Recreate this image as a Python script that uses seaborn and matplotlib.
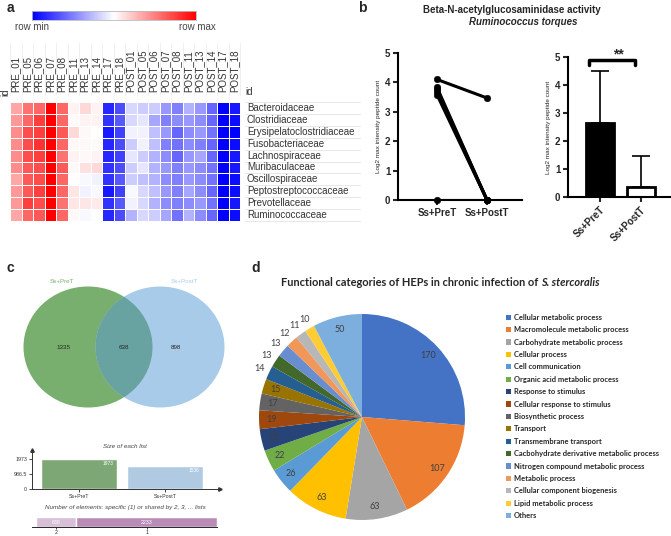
# Figura compuesta: heatmap (a), actividad enzimatica (b), Venn (c) y categorias funcionales (d)

import matplotlib
matplotlib.use("Agg")
import matplotlib.pyplot as plt
from matplotlib.colors import LinearSegmentedColormap
from matplotlib.patches import Ellipse
import numpy as np
import pandas as pd
import seaborn as sns

sns.set_style("white")
plt.rcParams["font.family"] = ["Liberation Sans", "DejaVu Sans"]

W, H = 671, 536

# ---------- datos panel a ----------
muestras = ["PRE_01", "PRE_05", "PRE_06", "PRE_07", "PRE_08", "PRE_11", "PRE_13", "PRE_14",
            "PRE_17", "PRE_18", "POST_01", "POST_05", "POST_06", "POST_07", "POST_08",
            "POST_11", "POST_13", "POST_14", "POST_17", "POST_18"]
familias = ["Bacteroidaceae", "Clostridiaceae", "Erysipelatoclostridiaceae", "Fusobacteriaceae",
            "Lachnospiraceae", "Muribaculaceae", "Oscillospiraceae", "Peptostreptococcaceae",
            "Prevotellaceae", "Ruminococcaceae"]
valores_a = [
    [0.35, 0.55, 0.60, 1.0, 0.60, 0.05, 0.15, 0.05, -0.85, -0.70, -0.15, -0.20, -0.20, -0.40, -0.50, -0.30, -0.40, -0.60, -1.0, -0.90],
    [0.40, 0.60, 0.75, 1.0, 0.60, 0.02, 0.05, 0.05, -0.80, -0.65, -0.15, -0.10, -0.35, -0.50, -0.45, -0.40, -0.45, -0.60, -1.0, -0.95],
    [0.45, 0.70, 0.75, 1.0, 0.65, 0.15, 0.03, 0.00, -0.90, -0.75, -0.05, -0.05, -0.25, -0.40, -0.60, -0.45, -0.40, -0.55, -1.0, -1.00],
    [0.45, 0.70, 0.80, 1.0, 0.60, 0.03, 0.03, 0.02, -0.85, -0.70, -0.20, -0.05, -0.25, -0.50, -0.55, -0.45, -0.50, -0.60, -1.0, -0.95],
    [0.45, 0.70, 0.75, 1.0, 0.55, 0.05, 0.03, 0.05, -0.85, -0.75, -0.10, -0.20, -0.30, -0.45, -0.60, -0.40, -0.35, -0.60, -1.0, -0.90],
    [0.45, 0.65, 0.70, 1.0, 0.65, 0.03, 0.12, 0.15, -0.80, -0.70, -0.20, -0.10, -0.30, -0.40, -0.50, -0.40, -0.45, -0.55, -1.0, -0.90],
    [0.35, 0.65, 0.70, 1.0, 0.60, 0.00, -0.03, -0.05, -0.80, -0.65, -0.20, -0.25, -0.30, -0.45, -0.50, -0.40, -0.45, -0.55, -1.0, -0.95],
    [0.40, 0.65, 0.75, 1.0, 0.60, 0.10, -0.05, -0.03, -0.90, -0.75, -0.03, -0.15, -0.25, -0.40, -0.50, -0.35, -0.45, -0.60, -1.0, -0.95],
    [0.40, 0.75, 0.70, 1.0, 0.55, 0.10, 0.10, 0.08, -0.80, -0.65, -0.05, -0.15, -0.30, -0.45, -0.50, -0.45, -0.40, -0.55, -1.0, -0.90],
    [0.35, 0.60, 0.65, 1.0, 0.60, 0.03, -0.03, 0.00, -0.85, -0.70, -0.30, -0.15, -0.20, -0.35, -0.55, -0.30, -0.45, -0.60, -1.0, -0.95],
]

# ---------- datos panel b ----------
grupos = ["Ss+PreT", "Ss+PostT"]
pareado_pre = [4.1, 3.83, 3.76, 3.68, 3.58, 0.0]
pareado_post = [3.47, 0.0, 0.0, 0.0, 0.0, 0.0]
media_barras = [2.65, 0.35]
sd_barras = [1.85, 1.1]

# ---------- datos panel c ----------
venn_solo_pre, venn_comun, venn_solo_post = 1335, 638, 898
tam_listas = [1973, 1536]
compartidos_etiquetas = ["2", "1"]
compartidos_valores = [638, 2233]

# ---------- datos panel d ----------
categorias = ["Cellular metabolic process", "Macromolecule metabolic process",
              "Carbohydrate metabolic process", "Cellular process", "Cell communication",
              "Organic acid metabolic process", "Response to stimulus",
              "Cellular response to stimulus", "Biosynthetic process", "Transport",
              "Transmembrane transport", "Cacbohydrate derivative metabolic process",
              "Nitrogen compound metabolic process", "Metabolic process",
              "Cellular component biogenesis", "Lipid metabolic process", "Others"]
conteos = [170, 107, 63, 63, 26, 22, 22, 19, 17, 15, 14, 13, 13, 12, 11, 10, 50]
colores_pie = ["#4472C4", "#ED7D31", "#A5A5A5", "#FFC000", "#5B9BD5", "#70AD47", "#264478",
               "#9E480E", "#636363", "#997300", "#255E91", "#43682B", "#698ED0", "#F1975A",
               "#B7B7B7", "#FFCD33", "#7CAFDD"]


def caja(x0, y0, x1, y1):
    return [x0 / W, 1 - y1 / H, (x1 - x0) / W, (y1 - y0) / H]


fig = plt.figure(figsize=(W / 100, H / 100), dpi=100)

for letra, (x, y) in zip("abcd", [(10, 8), (362, 8), (10, 268), (256, 268)]):
    fig.text(x / W, 1 - y / H, letra, fontsize=10, fontweight="bold", ha="center", va="center")

# ===============================
# Panel a - heatmap
# ===============================
cmap_rb = LinearSegmentedColormap.from_list("rb", ["#0000ff", "#ffffff", "#ff0000"])
df_a = pd.DataFrame(valores_a, index=familias, columns=muestras)

ax_cb = fig.add_axes(caja(32, 11, 196, 20))
ax_cb.imshow(np.linspace(-1, 1, 256)[None, :], cmap=cmap_rb, aspect="auto")
ax_cb.set_xticks([])
ax_cb.set_yticks([])
for s in ax_cb.spines.values():
    s.set_color("#bbbbbb")
    s.set_linewidth(0.6)
fig.text(32 / W, 1 - 27 / H, "row min", fontsize=7, color="#444444", ha="center", va="center")
fig.text(197 / W, 1 - 27 / H, "row max", fontsize=7, color="#444444", ha="center", va="center")

ax_a = fig.add_axes(caja(10, 102, 240, 221))
sns.heatmap(df_a, ax=ax_a, cmap=cmap_rb, vmin=-1, vmax=1, cbar=False,
            linewidths=0.5, linecolor="white", xticklabels=True, yticklabels=True)
ax_a.xaxis.tick_top()
ax_a.yaxis.tick_right()
ax_a.tick_params(axis="x", length=0, pad=7, labelsize=7, labelcolor="#333333")
ax_a.tick_params(axis="y", length=0, pad=5, labelsize=7, labelcolor="#333333")
plt.setp(ax_a.get_xticklabels(), rotation=90, ha="center", va="bottom")
plt.setp(ax_a.get_yticklabels(), rotation=0, ha="left", va="center")
ax_a.set_xlabel("")
ax_a.set_ylabel("")
for i in range(len(muestras) + 1):
    ax_a.plot([i, i], [-0.6, -5.0], color="#ececec", lw=0.6, clip_on=False, zorder=0)
for j in range(len(familias) + 1):
    ax_a.plot([20.4, 30.4], [j, j], color="#e4e4e4", lw=0.6, clip_on=False, zorder=0)
fig.text(5 / W, 1 - 92 / H, "id", fontsize=7, color="#333333", rotation=90, ha="center", va="center")
fig.text(245 / W, 1 - 92 / H, "id", fontsize=7, color="#333333", ha="left", va="center")

# ===============================
# Panel b - actividad enzimatica
# ===============================
fig.text(512 / W, 1 - 10 / H, "Beta-N-acetylglucosaminidase activity",
         fontsize=7, fontweight="bold", ha="center", va="center")
fig.text(523 / W, 1 - 22 / H, "Ruminococcus torques",
         fontsize=7, fontweight="bold", style="italic", ha="center", va="center")

df_par = pd.DataFrame({
    "sujeto": list(range(len(pareado_pre))) * 2,
    "grupo": [0] * len(pareado_pre) + [1] * len(pareado_post),
    "valor": pareado_pre + pareado_post,
})

ax_b1 = fig.add_axes(caja(398, 53, 522, 200))
sns.lineplot(data=df_par, x="grupo", y="valor", units="sujeto", estimator=None,
             color="black", lw=2.2, ax=ax_b1)
sns.scatterplot(data=df_par, x="grupo", y="valor", color="black", s=22,
                edgecolor="black", ax=ax_b1, clip_on=False, zorder=3)
ax_b1.set_xlim(-0.78, 1.7)
ax_b1.set_ylim(0, 5)
ax_b1.set_xticks([0, 1])
ax_b1.set_xticklabels(grupos)
ax_b1.set_yticks(range(6))

ax_b2 = fig.add_axes(caja(568, 57, 672, 197))
sns.barplot(x=grupos, y=media_barras, hue=grupos, palette=["black", "white"], legend=False,
            edgecolor="black", linewidth=2, width=0.68, ax=ax_b2)
ax_b2.errorbar([0, 1], media_barras, yerr=[[0, 0], sd_barras], fmt="none",
               ecolor="black", elinewidth=1.2, capsize=6.5, capthick=1.2, zorder=0)
ax_b2.plot([-0.27, -0.27, 0.85, 0.85], [4.7, 4.88, 4.88, 4.7], color="black", lw=2.5,
           clip_on=False)
ax_b2.text(0.45, 5.1, "**", fontsize=10, fontweight="bold", ha="center", va="center")
ax_b2.set_xlim(-0.78, 1.76)
ax_b2.set_ylim(0, 5)
ax_b2.set_yticks(range(6))
plt.setp(ax_b2.get_xticklabels(), rotation=45, ha="right", rotation_mode="anchor")

for ax in (ax_b1, ax_b2):
    sns.despine(ax=ax)
    for s in ("left", "bottom"):
        ax.spines[s].set_linewidth(1.5)
        ax.spines[s].set_color("black")
    ax.tick_params(axis="both", direction="out", length=3.5, width=1.5, labelsize=7,
                   bottom=True, left=True, pad=2)
    for t in ax.get_xticklabels() + ax.get_yticklabels():
        t.set_fontweight("bold")
    ax.set_xlabel("")
    ax.set_ylabel("Log2 max intensity peptide count", fontsize=4.6, labelpad=3)

# ===============================
# Panel c - Venn y resumen
# ===============================
verde, azul, solape = "#79af6e", "#a8cbe9", "#68a3a2"
ax_v = fig.add_axes(caja(0, 270, 240, 420))
ax_v.set_xlim(0, 240)
ax_v.set_ylim(420, 270)
ax_v.axis("off")
e_pre = Ellipse((88, 347), 129, 121, facecolor=verde, edgecolor="none")
e_post = Ellipse((160, 347), 129, 121, facecolor=azul, edgecolor="none")
e_sol = Ellipse((88, 347), 129, 121, facecolor=solape, edgecolor="none")
ax_v.add_patch(e_pre)
ax_v.add_patch(e_post)
ax_v.add_patch(e_sol)
e_sol.set_clip_path(e_post)
ax_v.text(62, 281, "Ss+PreT", fontsize=4.5, color=verde, ha="center", va="center")
ax_v.text(184, 281, "Ss+PostT", fontsize=4.5, color=azul, ha="center", va="center")
for x, v in [(63, venn_solo_pre), (124, venn_comun), (176, venn_solo_post)]:
    ax_v.text(x, 347, str(v), fontsize=4.5, ha="center", va="center")

fig.text(125 / W, 1 - 447 / H, "Size of each list", fontsize=4.5, style="italic",
         color="#444444", ha="center", va="center")
ax_c1 = fig.add_axes(caja(32, 450, 220, 489))
sns.barplot(x=grupos, y=tam_listas, hue=grupos, palette=[verde, azul], legend=False,
            width=0.88, ax=ax_c1)
ax_c1.set_xlim(-0.55, 1.64)
ax_c1.set_ylim(0, tam_listas[0] * 39 / 30)
ax_c1.set_yticks([0, tam_listas[0] / 2, tam_listas[0]])
ax_c1.set_yticklabels(["0", "986.5", "1973"])
for i, v in enumerate(tam_listas):
    ax_c1.text(i + 0.4, v - 150, str(v), fontsize=3.5, color="white", ha="right", va="top")
sns.despine(ax=ax_c1)
for s in ("left", "bottom"):
    ax_c1.spines[s].set_linewidth(0.7)
    ax_c1.spines[s].set_color("#333333")
ax_c1.plot(0, 1, "^", color="#333333", ms=2.5, transform=ax_c1.transAxes, clip_on=False)
ax_c1.plot(1, 0, ">", color="#333333", ms=2.5, transform=ax_c1.transAxes, clip_on=False)
ax_c1.tick_params(axis="both", labelsize=3.8, length=2, width=0.6, pad=1.5,
                  bottom=True, left=True, labelcolor="#333333")

fig.text(125 / W, 1 - 508 / H, "Number of elements: specific (1) or shared by 2, 3, ... lists",
         fontsize=4.5, style="italic", color="#444444", ha="center", va="center")
ax_c2 = fig.add_axes(caja(36, 517, 217, 527))
df_comp = pd.DataFrame({"n": compartidos_etiquetas, "valor": compartidos_valores})
df_comp["inicio"] = df_comp["valor"].cumsum() - df_comp["valor"]
ax_c2.barh(0, df_comp["valor"], left=df_comp["inicio"], height=1,
           color=["#d8bfd8", "#b98cb8"])
for _, fila in df_comp.iterrows():
    ax_c2.text(fila["inicio"] + fila["valor"] / 2, 0, str(fila["valor"]), fontsize=3.8,
               color="white", ha="center", va="center")
ax_c2.set_xlim(0, sum(compartidos_valores))
ax_c2.set_ylim(-0.5, 0.5)
ax_c2.set_xticks(df_comp["inicio"] + df_comp["valor"] / 2)
ax_c2.set_xticklabels(compartidos_etiquetas)
ax_c2.set_yticks([])
sns.despine(ax=ax_c2, left=True)
ax_c2.spines["bottom"].set_linewidth(0.7)
ax_c2.spines["bottom"].set_bounds(-0.02 * sum(compartidos_valores), sum(compartidos_valores))
ax_c2.tick_params(axis="x", labelsize=3.8, length=1.5, width=0.6, pad=1, bottom=True)

# ===============================
# Panel d - categorias funcionales
# ===============================
fuente_d = ["Lato", "DejaVu Sans"]
t1 = fig.text(281 / W, 1 - 283 / H, "Functional categories of HEPs in chronic infection of ",
              fontsize=7.9, fontweight="bold", family=fuente_d, ha="left", va="center")
ax_d = fig.add_axes(caja(259, 314, 465, 520))
ax_d.annotate("S. stercoralis", xy=(1, 0), xycoords=t1, fontsize=7.9, fontweight="bold",
              style="italic", family=fuente_d, ha="left", va="bottom",
              annotation_clip=False)
cunas, _ = ax_d.pie(conteos, colors=colores_pie, startangle=90, counterclock=False,
                    wedgeprops={"linewidth": 0})
ax_d.set_xlim(-1, 1)
ax_d.set_ylim(-1, 1)
for i, (cuna, v) in enumerate(zip(cunas, conteos)):
    ang = np.deg2rad((cuna.theta1 + cuna.theta2) / 2)
    r = 1.1 if 10 <= i <= 15 else 0.88
    ax_d.text(r * np.cos(ang), r * np.sin(ang), str(v), fontsize=6.5, color="#404040",
              family=fuente_d, ha="center", va="center")
leg = ax_d.legend(cunas, categorias, loc="upper left", bbox_to_anchor=(499 / W, 1 - 307 / H),
                  bbox_transform=fig.transFigure, frameon=False, handlelength=0.7,
                  handleheight=0.7, handletextpad=0.35, labelspacing=0.72,
                  prop={"size": 5.4, "weight": "bold", "family": fuente_d})
for t in leg.get_texts():
    t.set_color("#262626")

fig.savefig("out.png", dpi=100)
